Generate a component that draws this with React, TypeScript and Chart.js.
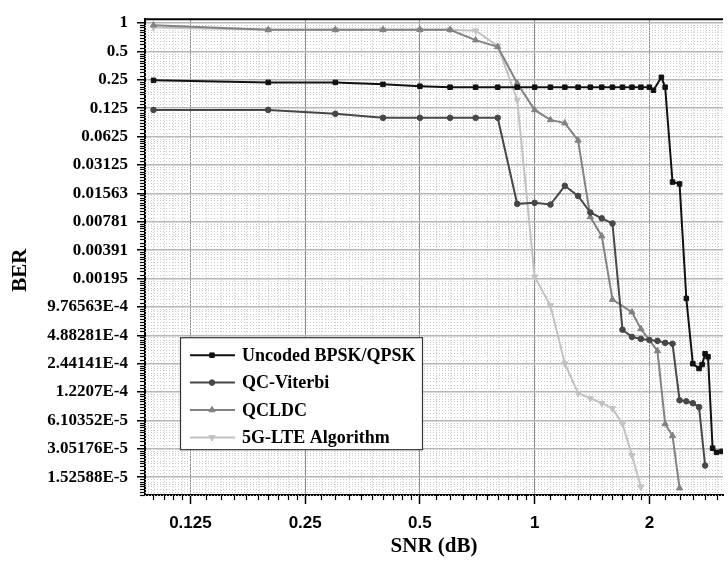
import React, { useEffect, useRef } from "react";
import { Chart, registerables } from "chart.js";
import { drawPoint } from "chart.js/helpers";

Chart.register(...registerables);

// ---------- data ----------
const seriesNames = ["Uncoded BPSK/QPSK", "QC-Viterbi", "QCLDC", "5G-LTE Algorithm"];

const uncodedSNR = [0.1, 0.2, 0.3, 0.4, 0.5, 0.6, 0.7, 0.8, 0.9, 1.0, 1.1, 1.2, 1.3, 1.4, 1.5, 1.6, 1.7, 1.8, 1.9, 2.0, 2.05, 2.15, 2.2, 2.3, 2.4, 2.5, 2.6, 2.7, 2.75, 2.8, 2.85, 2.93, 3.0, 3.1];
const uncodedBER = [0.247, 0.235, 0.235, 0.224, 0.214, 0.209, 0.209, 0.209, 0.209, 0.209, 0.209, 0.209, 0.209, 0.209, 0.209, 0.209, 0.209, 0.209, 0.209, 0.209, 0.194, 0.266, 0.209, 0.0206, 0.0197, 0.0012, 0.000244, 0.000217, 0.000239, 0.000311, 0.000289, 0.000031, 0.000028, 0.0000286];

const viterbiSNR = [0.1, 0.2, 0.3, 0.4, 0.5, 0.6, 0.7, 0.8, 0.9, 1.0, 1.1, 1.2, 1.3, 1.4, 1.5, 1.6, 1.7, 1.8, 1.9, 2.0, 2.1, 2.2, 2.3, 2.4, 2.5, 2.6, 2.7, 2.8];
const viterbiBER = [0.12, 0.12, 0.109, 0.099, 0.099, 0.099, 0.099, 0.099, 0.0121, 0.0124, 0.0119, 0.0188, 0.0147, 0.0098, 0.0085, 0.0075, 0.00056, 0.00047, 0.000447, 0.000436, 0.000426, 0.000406, 0.000397, 0.0001, 0.0000975, 0.000093, 0.0000845, 0.0000203];

const qcldcSNR = [0.1, 0.2, 0.3, 0.4, 0.5, 0.6, 0.7, 0.8, 0.9, 1.0, 1.1, 1.2, 1.3, 1.4, 1.5, 1.6, 1.8, 1.9, 2.1, 2.2, 2.3, 2.4];
const qcldcBER = [0.95, 0.85, 0.85, 0.85, 0.85, 0.85, 0.66, 0.56, 0.23, 0.12, 0.094, 0.087, 0.057, 0.0088, 0.0055, 0.00117, 0.00086, 0.00057, 0.000334, 0.000056, 0.000042, 0.0000117];

const lteSNR = [0.1, 0.2, 0.3, 0.4, 0.5, 0.6, 0.7, 0.8, 0.9, 1.0, 1.1, 1.2, 1.3, 1.4, 1.5, 1.6, 1.7, 1.8, 1.9];
const lteBER = [0.9, 0.85, 0.85, 0.85, 0.85, 0.85, 0.83, 0.574, 0.153, 0.00204, 0.00101, 0.000244, 0.000119, 0.000105, 0.000093, 0.000082, 0.000056, 0.000026, 0.000012];

const xTickValues = [0.125, 0.25, 0.5, 1, 2];
const xTickLabels = ["0.125", "0.25", "0.5", "1", "2"];

const yTickValues = [1, 0.5, 0.25, 0.125, 0.0625, 0.03125, 0.015625, 0.0078125, 0.00390625, 0.001953125, 0.0009765625, 0.00048828125, 0.000244140625, 0.0001220703125, 0.00006103515625, 0.000030517578125, 0.0000152587890625];
const yTickLabels = ["1", "0.5", "0.25", "0.125", "0.0625", "0.03125", "0.01563", "0.00781", "0.00391", "0.00195", "9.76563E-4", "4.88281E-4", "2.44141E-4", "1.2207E-4", "6.10352E-5", "3.05176E-5", "1.52588E-5"];

const xTitle = "SNR (dB)";
const yTitle = "BER";

// ---------- styles ----------
const SERIF = '"Liberation Serif", "Times New Roman", serif';
const SANS = '"Liberation Sans", Arial, sans-serif';

const minorValues = (majors: number[], lo: number, hi: number) => {
  const out: number[] = [];
  const bases = [...majors];
  const minMajor = Math.min(...majors);
  bases.push(minMajor / 2, minMajor / 4);
  bases.forEach((b) => {
    for (let j = 1; j <= 9; j++) {
      const v = b * (1 + j / 10);
      if (v > lo && v < hi) out.push(v);
    }
  });
  return out;
};

const decorPlugin = {
  id: "decor",
  beforeDatasetsDraw(chart: any) {
    const { ctx, chartArea: a, scales } = chart;
    const x = scales.x;
    const y = scales.y;
    const xm = minorValues(xTickValues, x.min, x.max);
    const ym = minorValues(yTickValues, y.min, y.max);
    ctx.save();
    ctx.strokeStyle = "#cbcbcb";
    ctx.lineWidth = 1;
    ctx.setLineDash([1, 2]);
    xm.forEach((v) => {
      const px = Math.round(x.getPixelForValue(v)) + 0.5;
      ctx.beginPath();
      ctx.moveTo(px, a.top);
      ctx.lineTo(px, a.bottom);
      ctx.stroke();
    });
    ym.forEach((v) => {
      const py = Math.round(y.getPixelForValue(v)) + 0.5;
      ctx.beginPath();
      ctx.moveTo(a.left, py);
      ctx.lineTo(a.right, py);
      ctx.stroke();
    });
    ctx.setLineDash([]);
    ctx.strokeStyle = "#000";
    ctx.lineWidth = 1.2;
    xm.forEach((v) => {
      const px = Math.round(x.getPixelForValue(v)) + 0.5;
      ctx.beginPath();
      ctx.moveTo(px, a.bottom);
      ctx.lineTo(px, a.bottom + 5);
      ctx.stroke();
    });
    ym.forEach((v) => {
      const py = Math.round(y.getPixelForValue(v)) + 0.5;
      ctx.beginPath();
      ctx.moveTo(a.left - 5, py);
      ctx.lineTo(a.left, py);
      ctx.stroke();
    });
    ctx.lineWidth = 2;
    ctx.beginPath();
    ctx.moveTo(a.left - 1, a.top);
    ctx.lineTo(a.right, a.top);
    ctx.stroke();
    ctx.restore();
  },
  afterDatasetsDraw(chart: any) {
    const { ctx, chartArea: a } = chart;
    const bx = a.left + 35;
    const by = a.top + 318;
    const bw = 242;
    const bh = 112;
    ctx.save();
    ctx.fillStyle = "#fff";
    ctx.fillRect(bx, by, bw, bh);
    ctx.strokeStyle = "#333";
    ctx.lineWidth = 1.2;
    ctx.strokeRect(bx + 0.5, by + 0.5, bw, bh);
    chart.data.datasets.forEach((ds: any, i: number) => {
      const cy = by + 18 + i * 27.4;
      ctx.strokeStyle = ds.borderColor;
      ctx.lineWidth = 2;
      ctx.beginPath();
      ctx.moveTo(bx + 10, cy);
      ctx.lineTo(bx + 55, cy);
      ctx.stroke();
      ctx.fillStyle = ds.pointBackgroundColor;
      ctx.strokeStyle = ds.pointBorderColor;
      ctx.lineWidth = 1;
      drawPoint(ctx, { pointStyle: ds.pointStyle, rotation: ds.pointRotation || 0, radius: ds.pointRadius, borderWidth: 1 }, bx + 32, cy);
      ctx.fillStyle = "#000";
      ctx.font = `bold 18px ${SERIF}`;
      ctx.textBaseline = "middle";
      ctx.textAlign = "left";
      ctx.fillText(ds.label, bx + 62, cy + 1);
    });
    ctx.restore();
  },
  afterDraw(chart: any) {
    // y-axis title, placed slightly below the vertical centre as in the reference
    const { ctx, chartArea: a } = chart;
    ctx.save();
    ctx.translate(21, (a.top + a.bottom) / 2 + 13);
    ctx.rotate(-Math.PI / 2);
    ctx.fillStyle = "#000";
    ctx.font = `bold 21px ${SERIF}`;
    ctx.textAlign = "center";
    ctx.textBaseline = "middle";
    ctx.fillText(yTitle, 0, 0);
    ctx.restore();
  },
};

const toPoints = (xs: number[], ys: number[]) => xs.map((v, i) => ({ x: v, y: ys[i] }));

export default function App() {
  const ref = useRef<HTMLCanvasElement | null>(null);

  useEffect(() => {
    if (!ref.current) return;
    const mk = (label: string, xs: number[], ys: number[], color: string, style: string, radius: number, rot = 0) => ({
      label,
      data: toPoints(xs, ys),
      borderColor: color,
      backgroundColor: color,
      pointBackgroundColor: color,
      pointBorderColor: color,
      pointStyle: style,
      pointRotation: rot,
      pointRadius: radius,
      pointBorderWidth: 1,
      borderWidth: 2,
      tension: 0,
      showLine: true,
      fill: false,
    });
    const chart = new Chart(ref.current, {
      type: "line",
      data: {
        datasets: [
          mk(seriesNames[0], uncodedSNR, uncodedBER, "#111111", "rect", 3.2),
          mk(seriesNames[1], viterbiSNR, viterbiBER, "#474747", "circle", 2.8),
          mk(seriesNames[2], qcldcSNR, qcldcBER, "#828282", "triangle", 3.6),
          mk(seriesNames[3], lteSNR, lteBER, "#c2c2c2", "triangle", 3.6, 180),
        ],
      },
      options: {
        animation: false,
        responsive: false,
        maintainAspectRatio: false,
        layout: { padding: { top: 13, right: 0, bottom: 0, left: 0 } },
        plugins: { legend: { display: false }, tooltip: { enabled: false } },
        scales: {
          x: {
            type: "logarithmic",
            bounds: "data",
            min: 0.095,
            max: 3.12,
            afterBuildTicks: (s: any) => {
              s.ticks = xTickValues.map((v) => ({ value: v }));
            },
            afterFit: (s: any) => {
              s.height = 69;
            },
            ticks: {
              autoSkip: false,
              maxRotation: 0,
              padding: 9,
              color: "#000",
              font: { family: SANS, weight: "bold", size: 17 },
              callback: (_v: any, i: number) => xTickLabels[i],
            },
            grid: { color: "#8f8f8f", lineWidth: 1, tickLength: 9, tickColor: "#000", tickWidth: 1.5 },
            border: { color: "#000", width: 2 },
            title: {
              display: true,
              text: xTitle,
              color: "#000",
              font: { family: SERIF, weight: "bold", size: 21 },
              padding: { top: 0, bottom: 5 },
            },
          },
          y: {
            type: "logarithmic",
            bounds: "data",
            min: 0.00000988,
            max: 1.1,
            afterBuildTicks: (s: any) => {
              s.ticks = yTickValues.map((v) => ({ value: v }));
            },
            afterFit: (s: any) => {
              s.width = 145;
            },
            ticks: {
              autoSkip: false,
              padding: 9,
              color: "#000",
              font: { family: SERIF, weight: "bold", size: 17 },
              callback: (_v: any, i: number) => yTickLabels[i],
            },
            grid: { color: "#b5b5b5", lineWidth: 1.5, tickLength: 8, tickColor: "#000", tickWidth: 1.5 },
            border: { color: "#000", width: 2 },
            title: { display: false },
          },
        },
      },
      plugins: [decorPlugin],
    } as any);
    return () => chart.destroy();
  }, []);

  return (
    <div style={{ position: "absolute", left: 0, top: 0, width: 728, height: 564, background: "#fff" }}>
      <canvas ref={ref} width={728} height={564} style={{ display: "block" }} />
    </div>
  );
}
